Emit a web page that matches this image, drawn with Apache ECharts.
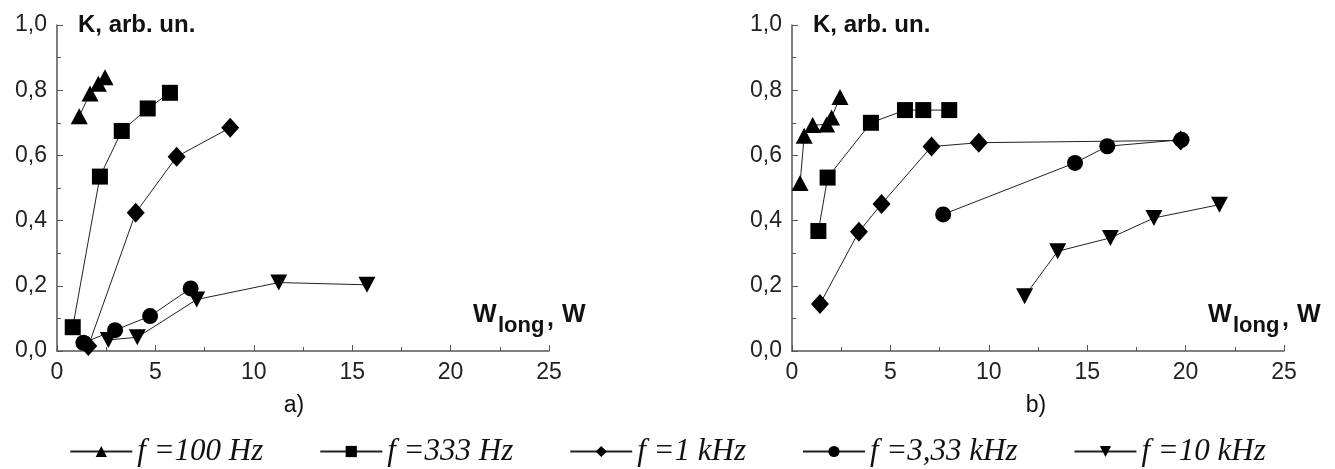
<!DOCTYPE html>
<html>
<head>
<meta charset="utf-8">
<script src="https://cdn.jsdelivr.net/npm/echarts@6/dist/echarts.min.js"></script>
<style>
html,body{margin:0;padding:0;background:#fff;}
#chart{width:1335px;height:469px;}
</style>
</head>
<body>
<div id="chart"></div>
<script>
// ---- data ----
const seriesNames = ['f =100 Hz', 'f =333 Hz', 'f =1 kHz', 'f =3,33 kHz', 'f =10 kHz'];
// panel a)
const a100  = [[1.13,0.72],[1.68,0.79],[2.1,0.82],[2.44,0.84]];
const a333  = [[0.8,0.073],[2.18,0.535],[3.29,0.675],[4.61,0.744],[5.74,0.792]];
const a1k   = [[1.59,0.015],[4.0,0.424],[6.08,0.596],[8.8,0.685]];
const a3k   = [[1.34,0.025],[2.95,0.064],[4.73,0.107],[6.79,0.192]];
const a10k  = [[2.61,0.034],[4.08,0.042],[7.1,0.158],[11.27,0.21],[15.75,0.203]];
// panel b)
const b100  = [[0.41,0.515],[0.62,0.66],[1.05,0.693],[1.76,0.695],[2.01,0.716],[2.44,0.779]];
const b333  = [[1.34,0.368],[1.81,0.532],[4.01,0.70],[5.74,0.739],[6.67,0.739],[7.99,0.739]];
const b1k   = [[1.42,0.144],[3.40,0.366],[4.55,0.451],[7.09,0.627],[9.49,0.639],[19.75,0.646]];
const b3k   = [[7.68,0.419],[14.38,0.577],[16.02,0.628],[19.79,0.648]];
const b10k  = [[11.82,0.168],[13.5,0.306],[16.18,0.347],[18.39,0.408],[21.72,0.449]];

const xTicks = {min:0, max:25, interval:5};
const yTicks = {min:0, max:1, interval:0.2};
const panelLabels = ['a)', 'b)'];
const yTitle = 'K, arb. un.';

// ---- styles ----
const SANS = 'Liberation Sans, Arial, sans-serif';
const symbols = [
  {symbol:'triangle', size:[17,16], rotate:0},
  {symbol:'rect', size:16, rotate:0},
  {symbol:'diamond', size:[18,20], rotate:0},
  {symbol:'circle', size:16, rotate:0},
  {symbol:'triangle', size:[17,16], rotate:180}
];
const axisColor = '#555';
const labelFont = {fontFamily:SANS, fontSize:23, color:'#222'};

function xAxis(gi){
  return {
    gridIndex: gi, type:'value', min:xTicks.min, max:xTicks.max, interval:xTicks.interval,
    axisLine:{show:true, onZero:false, lineStyle:{color:axisColor, width:1.5}},
    axisTick:{show:true, inside:true, length:6, lineStyle:{color:axisColor}},
    minorTick:{show:true, splitNumber:2, length:4, lineStyle:{color:axisColor}},
    splitLine:{show:false},
    axisLabel:Object.assign({margin:10}, labelFont)
  };
}
function yAxis(gi){
  return {
    gridIndex: gi, type:'value', min:yTicks.min, max:yTicks.max, interval:yTicks.interval,
    axisLine:{show:true, onZero:false, lineStyle:{color:axisColor, width:1.5}},
    axisTick:{show:true, inside:true, length:6, lineStyle:{color:axisColor}},
    minorTick:{show:true, splitNumber:2, length:4, lineStyle:{color:axisColor}},
    splitLine:{show:false},
    axisLabel:Object.assign({margin:10, formatter:v=>v.toFixed(1).replace('.',',')}, labelFont)
  };
}

const panels = [[a100,a333,a1k,a3k,a10k],[b100,b333,b1k,b3k,b10k]];
const series = [];
panels.forEach((p, gi) => {
  p.forEach((d, si) => {
    series.push({
      name: seriesNames[si], type:'line', xAxisIndex:gi, yAxisIndex:gi,
      data: d, symbol: symbols[si].symbol, symbolSize: symbols[si].size,
      symbolRotate: symbols[si].rotate, showSymbol:true,
      itemStyle:{color:'#000'}, lineStyle:{color:'#222', width:1},
      emphasis:{disabled:true}, animation:false, z: 2 + si
    });
  });
});

const grids = [
  {left:57, top:25, width:492, height:326},
  {left:792, top:25, width:492, height:326}
];

function txt(x, y, t, size, bold, align){
  return {type:'text', x:x, y:y, style:{text:t, fontFamily:SANS, fontWeight:bold?'bold':'normal', fontSize:size, fill:'#111', align:align||'left', verticalAlign:'middle'}};
}
function wTitle(x){
  return [
    txt(x, 315, 'W', 25, true),
    txt(x+25, 326, 'long', 22, true),
    txt(x+74, 319, ',', 25, true),
    txt(x+89, 315, 'W', 25, true)
  ];
}

const chart = echarts.init(document.getElementById('chart'), null, {renderer:'canvas'});
chart.setOption({
  animation:false,
  backgroundColor:'#fff',
  grid: grids,
  xAxis: [xAxis(0), xAxis(1)],
  yAxis: [yAxis(0), yAxis(1)],
  legend: {
    data: seriesNames, top: 431, left:'center', itemGap: 56, itemWidth: 62, itemHeight: 14,
    textStyle:{fontFamily:'Liberation Serif, Times New Roman, serif', fontStyle:'italic', fontSize:31, color:'#111'}
  },
  graphic: [
    txt(78, 25, yTitle, 24, true), txt(813, 25, yTitle, 24, true),
    ...wTitle(473), ...wTitle(1208),
    txt(294, 406, panelLabels[0], 23, false, 'center'), txt(1036, 406, panelLabels[1], 23, false, 'center')
  ],
  series: series
});
</script>
</body>
</html>
